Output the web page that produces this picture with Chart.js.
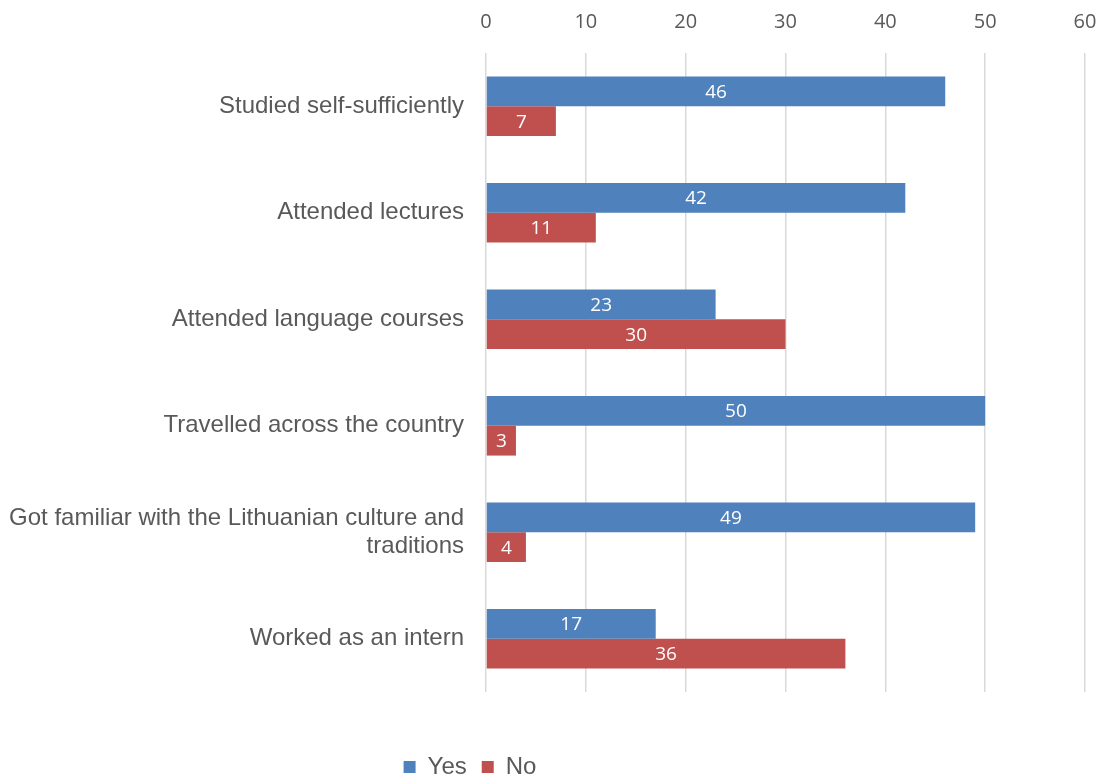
<!DOCTYPE html>
<html>
<head>
<meta charset="utf-8">
<script src="https://cdn.jsdelivr.net/npm/chart.js@4.4.1/dist/chart.umd.min.js"></script>
<style>
  body { margin: 0; background: #fff; }
  canvas { display: block; }
</style>
</head>
<body>
<canvas id="chart" width="1102" height="775"></canvas>
<script>
var categories = [
  "Studied self-sufficiently",
  "Attended lectures",
  "Attended language courses",
  "Travelled across the country",
  ["Got familiar with the Lithuanian culture and", "traditions"],
  "Worked as an intern"
];
var yesValues = [46, 42, 23, 50, 49, 17];
var noValues = [7, 11, 30, 3, 4, 36];

var xMin = 0;
var xMax = 60;
var xStep = 10;

var bottomSpace = 34;
var legendDrop = 48;

// white value labels in the middle of every bar
var barValues = {
  id: "barValues",
  afterDatasetsDraw: function (chart) {
    var ctx = chart.ctx;
    ctx.save();
    ctx.fillStyle = "#ffffff";
    ctx.font = "19px 'Open Sans'";
    ctx.textAlign = "center";
    ctx.textBaseline = "middle";
    chart.data.datasets.forEach(function (ds, i) {
      chart.getDatasetMeta(i).data.forEach(function (bar, j) {
        ctx.fillText(ds.data[j], (bar.x + bar.base) / 2, bar.y + 1);
      });
    });
    ctx.restore();
  }
};

// legend goes to the very bottom, a bit left of the canvas centre
var legendShift = {
  id: "legendShift",
  afterLayout: function (chart) {
    var lg = chart.legend;
    lg.left = 0;
    lg.right = 940;
    lg.top += legendDrop;
    lg.bottom += legendDrop;
  }
};

new Chart(document.getElementById("chart"), {
  type: "bar",
  data: {
    labels: categories,
    datasets: [
      {
        label: "Yes",
        data: yesValues,
        backgroundColor: "#4f81bd",
        categoryPercentage: 0.56,
        barPercentage: 1
      },
      {
        label: "No",
        data: noValues,
        backgroundColor: "#c0504d",
        categoryPercentage: 0.56,
        barPercentage: 1
      }
    ]
  },
  options: {
    indexAxis: "y",
    responsive: false,
    animation: false,
    layout: { padding: { left: 0, right: 17, top: 0, bottom: bottomSpace } },
    scales: {
      x: {
        position: "top",
        min: xMin,
        max: xMax,
        afterFit: function (scale) { scale.height = 53; },
        ticks: {
          stepSize: xStep,
          padding: 0,
          color: "#595959",
          // tall line box keeps the numbers up near the top edge
          font: { family: "'Open Sans'", size: 20, lineHeight: 3.1 }
        },
        grid: { color: "#d9d9d9", lineWidth: 1.5, drawTicks: false },
        border: { display: false }
      },
      y: {
        afterFit: function (scale) { scale.width = 486; },
        ticks: {
          padding: 22,
          color: "#595959",
          font: { family: "'Liberation Sans'", size: 24, lineHeight: 1.17 }
        },
        grid: { display: false, drawTicks: false },
        border: { display: false }
      }
    },
    plugins: {
      legend: {
        position: "bottom",
        labels: {
          boxWidth: 12,
          boxHeight: 12,
          padding: 15,
          color: "#595959",
          font: { family: "'Liberation Sans'", size: 24 }
        }
      },
      tooltip: { enabled: false }
    }
  },
  plugins: [barValues, legendShift]
});
</script>
</body>
</html>
